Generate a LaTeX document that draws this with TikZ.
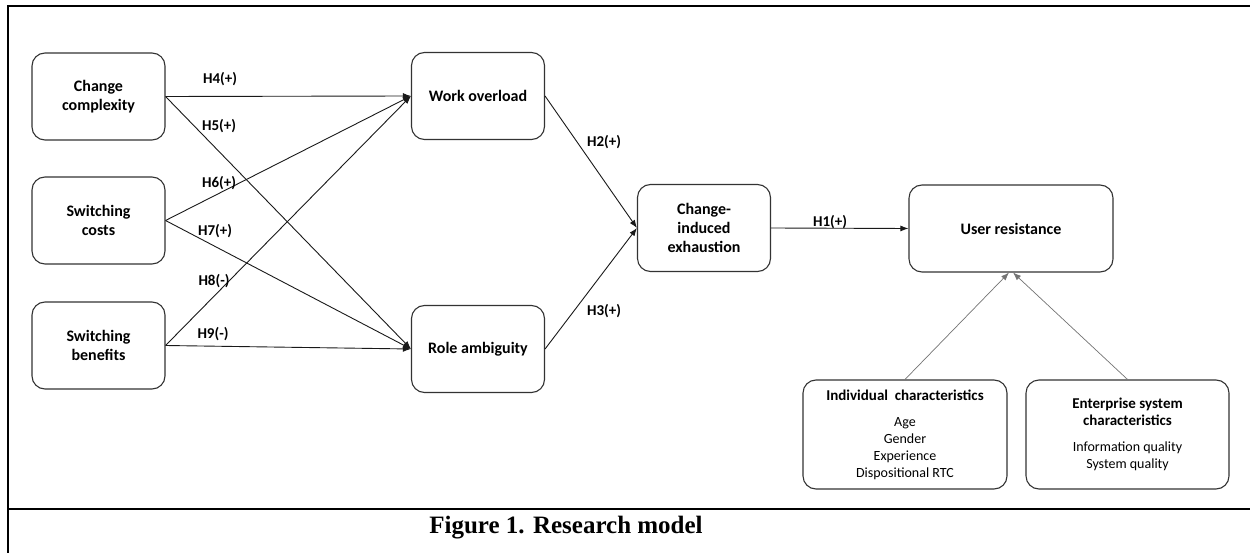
\documentclass[tikz,border=0pt]{standalone}
\usepackage{fontspec}
\setmainfont{Carlito}
\newfontfamily\captionfont{Liberation Serif}
\usetikzlibrary{arrows.meta}
\usetikzlibrary{positioning}
\tikzset{box/.style = {draw=black!80, line width=1.1pt, rounded corners=13pt,
                       align=center, inner sep=0pt,
                       minimum width=133pt, minimum height=87pt,
                       font=\bfseries\fontsize{16}{19}\selectfont}}
\tikzset{widebox/.style = {box, minimum width=204pt}}
\tikzset{hyp/.style = {font=\bfseries\fontsize{15}{18}\selectfont, inner sep=0pt}}
\tikzset{link/.style = {draw=black!90, line width=0.9pt,
                        -{Latex[length=8pt,width=6pt]}}}
\tikzset{modlink/.style = {draw=black!55, line width=0.7pt,
                           -{Latex[length=8pt,width=6pt]}}}

\begin{document}
\begin{tikzpicture}[x=1pt, y=-1pt]
      \useasboundingbox (0,0) rectangle (1250,553);

      % frame and caption
      \draw [line width=2pt] (1250,6) -- (8,6) -- (8,553);
      \draw [line width=2pt] (8,509) -- (1250,509);
      \node [anchor=base, font=\captionfont\bfseries\fontsize{25}{28}\selectfont] (caption) at (566,533) {Figure 1. Research model};

      % antecedents
      \node [box] (cc) at (98.5,96.5) {Change\\complexity};
      \node [box] (sc) at (98.5,220.5) {Switching\\costs};
      \node [box] (sb) at (98.5,345.5) {Switching\\benefits};

      % mediators
      \node [box] (wo) at (478,96) {Work overload};
      \node [box] (ra) at (478,349) {Role ambiguity};
      \node [box] (cie) at (704,228) {Change-\\induced\\exhaustion};
      \node [widebox] (ur) at (1011,228.5) {User resistance};

      % controls
      \node [widebox, minimum height=109pt, font=\fontsize{14}{17}\selectfont] (ic) at (905,434.5)
            {\textbf{\fontsize{15}{17}\selectfont Individual\ \ characteristics}\\[9pt]Age\\Gender\\Experience\\Dispositional RTC};
      \node [widebox, minimum width=203pt, minimum height=109pt, font=\fontsize{14}{17}\selectfont] (es) at (1127.5,434.5)
            {\textbf{\fontsize{15}{18}\selectfont Enterprise system}\\\textbf{\fontsize{15}{18}\selectfont characteristics}\\[9pt]Information quality\\System quality};

      \draw [link] (cc.east) -- (wo.west);
      \draw [link] (cc.east) -- (ra.west);
      \draw [link] (sc.east) -- (wo.west);
      \draw [link] (sc.east) -- (ra.west);
      \draw [link] (sb.east) -- (wo.west);
      \draw [link] (sb.east) -- (ra.west);
      \draw [link] (wo.east) -- (cie.west);
      \draw [link] (ra.east) -- (cie.west);
      \draw [link] (cie.east) -- (ur.west);

      \draw [modlink] (ic.north) -- ([xshift=-2pt]ur.south);
      \draw [modlink] (es.north) -- ([xshift=2pt]ur.south);

      % hypotheses
      \node [hyp] (h4) at (220,79) {H4(+)};
      \node [hyp] (h5) at (219,126) {H5(+)};
      \node [hyp] (h6) at (219,183) {H6(+)};
      \node [hyp] (h7) at (215,231) {H7(+)};
      \node [hyp] (h8) at (214,281) {H8(-)};
      \node [hyp] (h9) at (213,334) {H9(-)};
      \node [hyp] (h2) at (604,142) {H2(+)};
      \node [hyp] (h3) at (604,311) {H3(+)};
      \node [hyp] (h1) at (830,222) {H1(+)};
\end{tikzpicture}
\end{document}
